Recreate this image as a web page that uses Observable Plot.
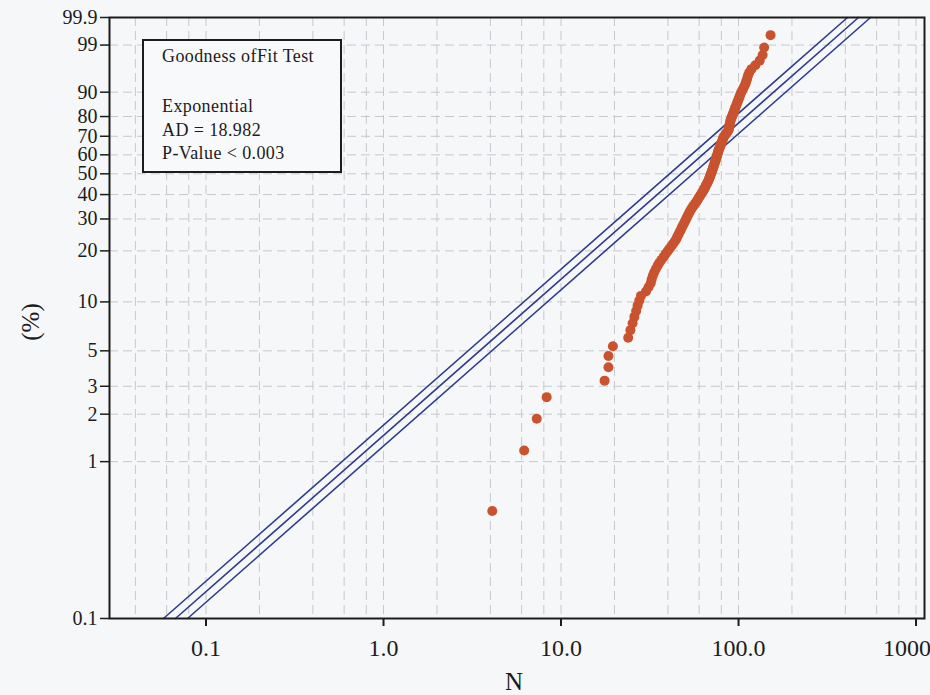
<!DOCTYPE html>
<html>
<head>
<meta charset="utf-8">
<script src="https://cdn.jsdelivr.net/npm/d3@7"></script>
<script src="https://cdn.jsdelivr.net/npm/@observablehq/plot@0.6"></script>
<style>
  html, body { margin: 0; padding: 0; background: #f6f7f9; }
  #chart { width: 930px; height: 695px; overflow: hidden; }
</style>
</head>
<body>
<div id="chart"></div>
<script>
// ---- data ----
// Observed N values (sorted), plotted at median-rank positions
const sampleN = [
  4.1, 6.2, 7.3, 8.3, 17.6, 18.5, 18.5, 19.6, 23.9, 24.6,
  25.3, 25.9, 26.5, 27.0, 27.6, 28.2, 30.1, 31.1, 32.0, 32.4,
  32.9, 33.5, 34.2, 35.0, 35.8, 36.8, 37.9, 38.8, 39.8, 40.8,
  41.8, 42.8, 43.8, 44.6, 45.2, 45.9, 46.5, 47.2, 47.8, 48.4,
  49.1, 49.7, 50.3, 50.9, 51.5, 52.1, 52.8, 53.4, 54.1, 54.9,
  55.7, 56.6, 57.4, 58.3, 59.0, 59.7, 60.5, 61.3, 62.1, 62.8,
  63.6, 64.3, 64.8, 65.4, 66.1, 66.7, 67.3, 67.9, 68.4, 68.8,
  69.3, 69.7, 70.2, 70.6, 71.1, 71.5, 71.9, 72.3, 72.7, 73.2,
  73.5, 73.9, 74.4, 74.7, 75.1, 75.5, 75.9, 76.3, 76.7, 76.9,
  77.4, 78.0, 78.5, 79.0, 79.6, 80.1, 80.6, 81.1, 81.6, 82.0,
  82.5, 83.6, 84.7, 85.7, 86.8, 87.8, 88.2, 88.5, 88.8, 89.1,
  89.4, 89.8, 90.0, 90.7, 91.3, 92.0, 92.8, 93.4, 94.1, 94.8,
  95.4, 96.2, 97.1, 97.8, 98.7, 99.6, 100.4, 101.3, 102.2, 103.3,
  104.8, 106.3, 107.8, 109.4, 110.5, 111.8, 113.0, 114.9, 118.2, 124.4,
  131.6, 136.7, 139.4, 151.5
];

// Fitted exponential line and confidence bounds: endpoints (N at 0.1% and 99.9%)
const fitPercent = [0.1, 99.9];
const fitLower  = [0.0576, 411];
const fitCenter = [0.0673, 474];
const fitUpper  = [0.0787, 554];

// Axis ticks
const yTickValues = [0.1, 1, 2, 3, 5, 10, 20, 30, 40, 50, 60, 70, 80, 90, 99, 99.9];
const yTickLabels = ["0.1", "1", "2", "3", "5", "10", "20", "30", "40", "50", "60", "70", "80", "90", "99", "99.9"];
const xTickValues = [0.1, 1, 10, 100, 1000];
const xTickLabels = ["0.1", "1.0", "10.0", "100.0", "1000.0"];
const yGridValues = [1, 2, 3, 5, 10, 20, 30, 40, 50, 60, 70, 80, 90, 99];
const xGridMantissa = [2, 4, 6, 8, 10];
const xGridDecades = [0.01, 0.1, 1, 10, 100];

const statsTitle = "Goodness ofFit Test";
const statsLines = ["Exponential", "AD = 18.982", "P-Value < 0.003"];

// ---- derived tables ----
// exponential probability-paper transform
const tf = p => Math.log10(-Math.log(1 - p / 100));
// median-rank plotting positions
const points = sampleN.map((n, i) => ({N: n, pct: (i + 0.7) / (sampleN.length + 0.4) * 100}));
const fitRows = [];
[["lower", fitLower], ["center", fitCenter], ["upper", fitUpper]].forEach(([name, arr]) => {
  arr.forEach((n, i) => fitRows.push({series: name, N: n, pct: fitPercent[i]}));
});
const xGrid = [];
xGridDecades.forEach(d => xGridMantissa.forEach(m => xGrid.push(m * d)));
const xGridIn = xGrid.filter(v => v > 0.0286 && v < 1116);
const yLabelMap = new Map(yTickValues.map((v, i) => [tf(v), yTickLabels[i]]));
const xLabelMap = new Map(xTickValues.map((v, i) => [v, xTickLabels[i]]));

const serif = "'Liberation Serif', 'Times New Roman', serif";
const gridColor = "#c6c8ce";

const chart = Plot.plot({
  width: 930,
  height: 695,
  marginLeft: 109,
  marginRight: 6,
  marginTop: 17,
  marginBottom: 77,
  style: {background: "transparent", fontFamily: serif, color: "#1c1c1c", overflow: "hidden"},
  x: {type: "log", domain: [0.0286, 1116]},
  y: {type: "linear", domain: [tf(0.1), tf(99.9)]},
  marks: [
    Plot.ruleX(xGridIn, {stroke: gridColor, strokeWidth: 1, strokeDasharray: "9,5"}),
    Plot.ruleY(yGridValues.map(tf), {stroke: gridColor, strokeWidth: 1, strokeDasharray: "9,5"}),
    Plot.line(fitRows, {x: "N", y: d => tf(d.pct), z: "series", stroke: "#2f3d8e", strokeWidth: 1.6}),
    Plot.dot(points, {x: "N", y: d => tf(d.pct), r: 5, fill: "#c9532f", stroke: "none"}),
    Plot.frame({stroke: "#1c1c1c", strokeWidth: 2}),
    Plot.axisX(xTickValues, {
      anchor: "bottom", tickSize: 8, tickPadding: 12, strokeWidth: 2,
      tickFormat: d => xLabelMap.get(d), fontSize: 24, label: null
    }),
    Plot.axisY(yTickValues.map(tf), {
      anchor: "left", tickSize: 9, tickPadding: 3, strokeWidth: 1.5,
      tickFormat: d => yLabelMap.get(d), fontSize: 20, label: null
    })
  ]
});

const svg = d3.select(chart);
// axis titles
svg.append("text")
  .attr("transform", "translate(30,322) rotate(-90)")
  .attr("text-anchor", "middle").attr("dominant-baseline", "central")
  .attr("font-family", serif).attr("font-size", 25).attr("fill", "#1c1c1c")
  .text("(%)");
svg.append("text")
  .attr("x", 514).attr("y", 690)
  .attr("text-anchor", "middle")
  .attr("font-family", serif).attr("font-size", 25).attr("fill", "#1c1c1c")
  .text("N");
// stats box
const box = svg.append("g");
box.append("rect").attr("x", 143).attr("y", 40).attr("width", 198).attr("height", 132)
  .attr("fill", "#f8f9fa").attr("stroke", "#1c1c1c").attr("stroke-width", 2);
const tx = box.append("g").attr("font-family", serif).attr("font-size", 18).attr("fill", "#1c1c1c")
  .attr("text-anchor", "start").attr("letter-spacing", "0.4px");
tx.append("text").attr("x", 162).attr("y", 62).attr("text-anchor", "start").text(statsTitle);
statsLines.forEach((s, i) => tx.append("text").attr("x", 162).attr("y", 112 + i * 23.5)
  .attr("text-anchor", "start").text(s));

document.getElementById("chart").appendChild(chart);
</script>
</body>
</html>
